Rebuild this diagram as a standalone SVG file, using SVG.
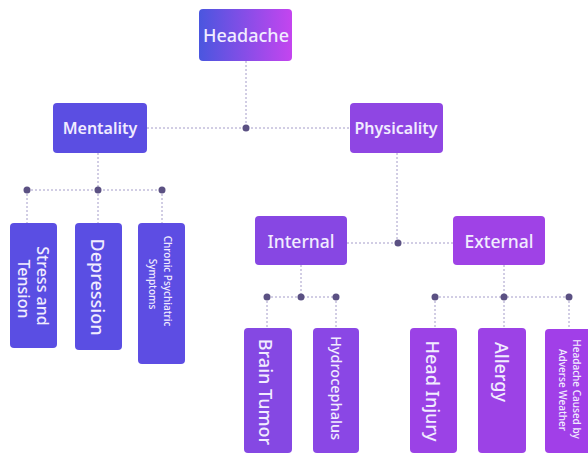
<svg xmlns="http://www.w3.org/2000/svg" width="588" height="455" viewBox="0 0 588 455">
<defs>
<linearGradient id="gHead" x1="0" y1="0" x2="1" y2="0">
<stop offset="0" stop-color="#4a56df"/>
<stop offset="1" stop-color="#c445ef"/>
</linearGradient>
<style>
.ln{stroke:#a49cc9;stroke-width:1;stroke-dasharray:2 2;fill:none}
.dot{fill:#5b5183}
.t{font-family:"Noto Sans","Open Sans",sans-serif;fill:#f1ecff;text-anchor:middle;dominant-baseline:central;font-weight:500}
.m{font-size:16px;font-weight:600}
.b{font-size:17.5px}
.v{font-size:18px}
.s{font-size:10px}
</style>
</defs>
<rect width="588" height="455" fill="#ffffff"/>
<g id="connectors">
<path class="ln" d="M246 61V128M147 128H350"/>
<path class="ln" d="M98 153V190M27 190H162M27 190V223M98 190V223M162 190V223"/>
<path class="ln" d="M397 153V243M347 243H453"/>
<path class="ln" d="M301 265V297M267 297H336M267 297V328M336 297V328"/>
<path class="ln" d="M504 265V297M435 297H569M435 297V328M504 297V328M569 297V328"/>
<circle class="dot" cx="246" cy="128" r="3.5"/>
<circle class="dot" cx="27" cy="190" r="3.5"/>
<circle class="dot" cx="98" cy="190" r="3.5"/>
<circle class="dot" cx="162" cy="190" r="3.5"/>
<circle class="dot" cx="398" cy="243" r="3.5"/>
<circle class="dot" cx="267" cy="297" r="3.5"/>
<circle class="dot" cx="301" cy="297" r="3.5"/>
<circle class="dot" cx="336" cy="297" r="3.5"/>
<circle class="dot" cx="435" cy="297" r="3.5"/>
<circle class="dot" cx="504" cy="297" r="3.5"/>
<circle class="dot" cx="569" cy="297" r="3.5"/>
</g>
<g id="headache">
<rect x="199" y="9" width="93" height="52" rx="4" fill="url(#gHead)"/>
<text class="t" x="246" y="35" font-size="18">Headache</text>
</g>
<g id="mentality">
<rect x="53" y="103" width="94" height="50" rx="4" fill="#5b4ee2"/>
<text class="t m" x="100" y="128">Mentality</text>
</g>
<g id="physicality">
<rect x="350" y="103" width="93" height="50" rx="4" fill="#8f46e3"/>
<text class="t m" x="396" y="128" font-size="16.5">Physicality</text>
</g>
<g id="stress">
<rect x="10" y="223" width="47" height="125" rx="4" fill="#5a4ee3"/>
<text class="t" font-size="16" transform="translate(43 286) rotate(90)">Stress and</text>
<text class="t" font-size="16" transform="translate(24 289) rotate(90)">Tension</text>
</g>
<g id="depression">
<rect x="75" y="223" width="47" height="127" rx="4" fill="#5a4ee3"/>
<text class="t v" transform="translate(98 287) rotate(90)">Depression</text>
</g>
<g id="chronic">
<rect x="138" y="223" width="47" height="141" rx="4" fill="#5d4de3"/>
<text class="t s" transform="translate(168 281) rotate(90)">Chronic Psychiatric</text>
<text class="t s" transform="translate(153 284) rotate(90)">Symptoms</text>
</g>
<g id="internal">
<rect x="255" y="216" width="92" height="49" rx="4" fill="#8747e3"/>
<text class="t b" x="301" y="241">Internal</text>
</g>
<g id="external">
<rect x="453" y="216" width="92" height="49" rx="4" fill="#9f42e6"/>
<text class="t b" x="499" y="241">External</text>
</g>
<g id="brain-tumor">
<rect x="244" y="328" width="48" height="125" rx="4" fill="#8548e3"/>
<text class="t v" transform="translate(266 392) rotate(90)">Brain Tumor</text>
</g>
<g id="hydrocephalus">
<rect x="313" y="328" width="46" height="125" rx="4" fill="#8a47e5"/>
<text class="t" font-size="14.5" transform="translate(337 388) rotate(90)">Hydrocephalus</text>
</g>
<g id="head-injury">
<rect x="410" y="328" width="47" height="125" rx="4" fill="#9b42e6"/>
<text class="t v" transform="translate(433 391) rotate(90)">Head Injury</text>
</g>
<g id="allergy">
<rect x="478" y="328" width="48" height="125" rx="4" fill="#9c42e6"/>
<text class="t v" transform="translate(502 372) rotate(90)">Allergy</text>
</g>
<g id="weather">
<rect x="545" y="329" width="46" height="124" rx="4" fill="#a13fe8"/>
<text class="t s" transform="translate(577 389) rotate(90)">Headache Caused by</text>
<text class="t s" transform="translate(563 390) rotate(90)">Adverse Weather</text>
</g>
</svg>
